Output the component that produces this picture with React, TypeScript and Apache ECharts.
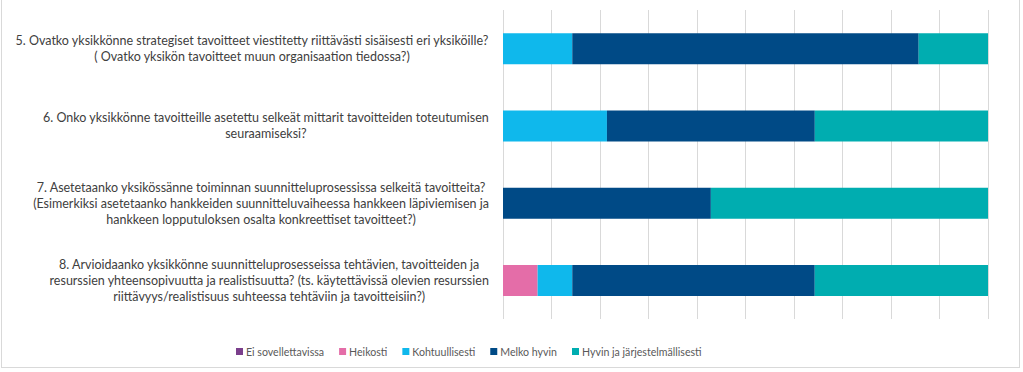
import React, { useEffect, useRef } from "react";
import * as echarts from "echarts";

const categories = [
  "5. Ovatko yksikkönne strategiset tavoitteet viestitetty riittävästi sisäisesti eri yksiköille?\n( Ovatko yksikön tavoitteet muun organisaation tiedossa?)",
  "6. Onko yksikkönne tavoitteille asetettu selkeät mittarit tavoitteiden toteutumisen\nseuraamiseksi?",
  "7. Asetetaanko yksikössänne toiminnan suunnitteluprosessissa selkeitä tavoitteita?\n(Esimerkiksi asetetaanko hankkeiden suunnitteluvaiheessa hankkeen läpiviemisen ja\nhankkeen lopputuloksen osalta konkreettiset tavoitteet?)",
  "8. Arvioidaanko yksikkönne suunnitteluprosesseissa tehtävien, tavoitteiden ja\nresurssien yhteensopivuutta ja realistisuutta? (ts. käytettävissä olevien resurssien\nriittävyys/realistisuus suhteessa tehtäviin ja tavoitteisiin?)",
];

const seriesNames = [
  "Ei sovellettavissa",
  "Heikosti",
  "Kohtuullisesti",
  "Melko hyvin",
  "Hyvin ja järjestelmällisesti",
];

const eiSovellettavissa = [0, 0, 0, 0];
const heikosti = [0, 0, 0, 7.14];
const kohtuullisesti = [14.28, 21.43, 0, 7.14];
const melkoHyvin = [71.43, 42.86, 42.86, 50.0];
const hyvinJaJarjestelmallisesti = [14.29, 35.71, 57.14, 35.72];

const seriesValues = [
  eiSovellettavissa,
  heikosti,
  kohtuullisesti,
  melkoHyvin,
  hyvinJaJarjestelmallisesti,
];

const colors = ["#7B3F8C", "#E46DA8", "#0FB8EC", "#004A86", "#00ADB0"];

export default function App() {
  const ref = useRef<HTMLDivElement>(null);

  useEffect(() => {
    document.body.style.margin = "0";
    if (!ref.current) return;
    const chart = echarts.init(ref.current, undefined, { renderer: "svg" });
    chart.setOption({
      animation: false,
      color: colors,
      grid: { left: 503, right: 35, top: 10, bottom: 53, containLabel: false },
      legend: {
        left: 231,
        top: 341,
        itemWidth: 7,
        itemHeight: 7,
        itemGap: 15,
        icon: "rect",
        textStyle: {
          fontFamily: "Lato",
          fontSize: 10.6,
          color: "#595959",
          padding: [0, 0, 0, -2],
        },
        data: seriesNames,
      },
      xAxis: {
        type: "value",
        min: 0,
        max: 100,
        interval: 10,
        axisLabel: { show: false },
        axisLine: { show: false },
        axisTick: { show: false },
        splitLine: { show: true, lineStyle: { color: "#D9D9D9", width: 1 } },
      },
      yAxis: {
        type: "category",
        inverse: true,
        data: categories,
        axisLine: { show: false },
        axisTick: { show: false },
        axisLabel: {
          margin: 14,
          formatter: (v: string) =>
            v
              .split("\n")
              .map((l) => `{c|${l}}`)
              .join("\n"),
          rich: {
            c: {
              align: "center",
              fontFamily: "Lato",
              fontSize: 12.5,
              lineHeight: 16,
              color: "#404040",
            },
          },
        },
      },
      series: seriesNames.map((name, i) => ({
        name,
        type: "bar",
        stack: "total",
        barWidth: 31,
        data: seriesValues[i],
        itemStyle: { color: colors[i] },
      })),
    });
    return () => chart.dispose();
  }, []);

  return (
    <div style={{ position: "relative", width: 1023, height: 372 }}>
      <div ref={ref} style={{ position: "absolute", left: 0, top: 0, width: 1023, height: 372 }} />
      <div
        style={{
          position: "absolute",
          left: 1,
          top: -2,
          width: 1019,
          height: 370,
          border: "1px solid #D9D9D9",
          boxSizing: "border-box",
          pointerEvents: "none",
        }}
      />
    </div>
  );
}
